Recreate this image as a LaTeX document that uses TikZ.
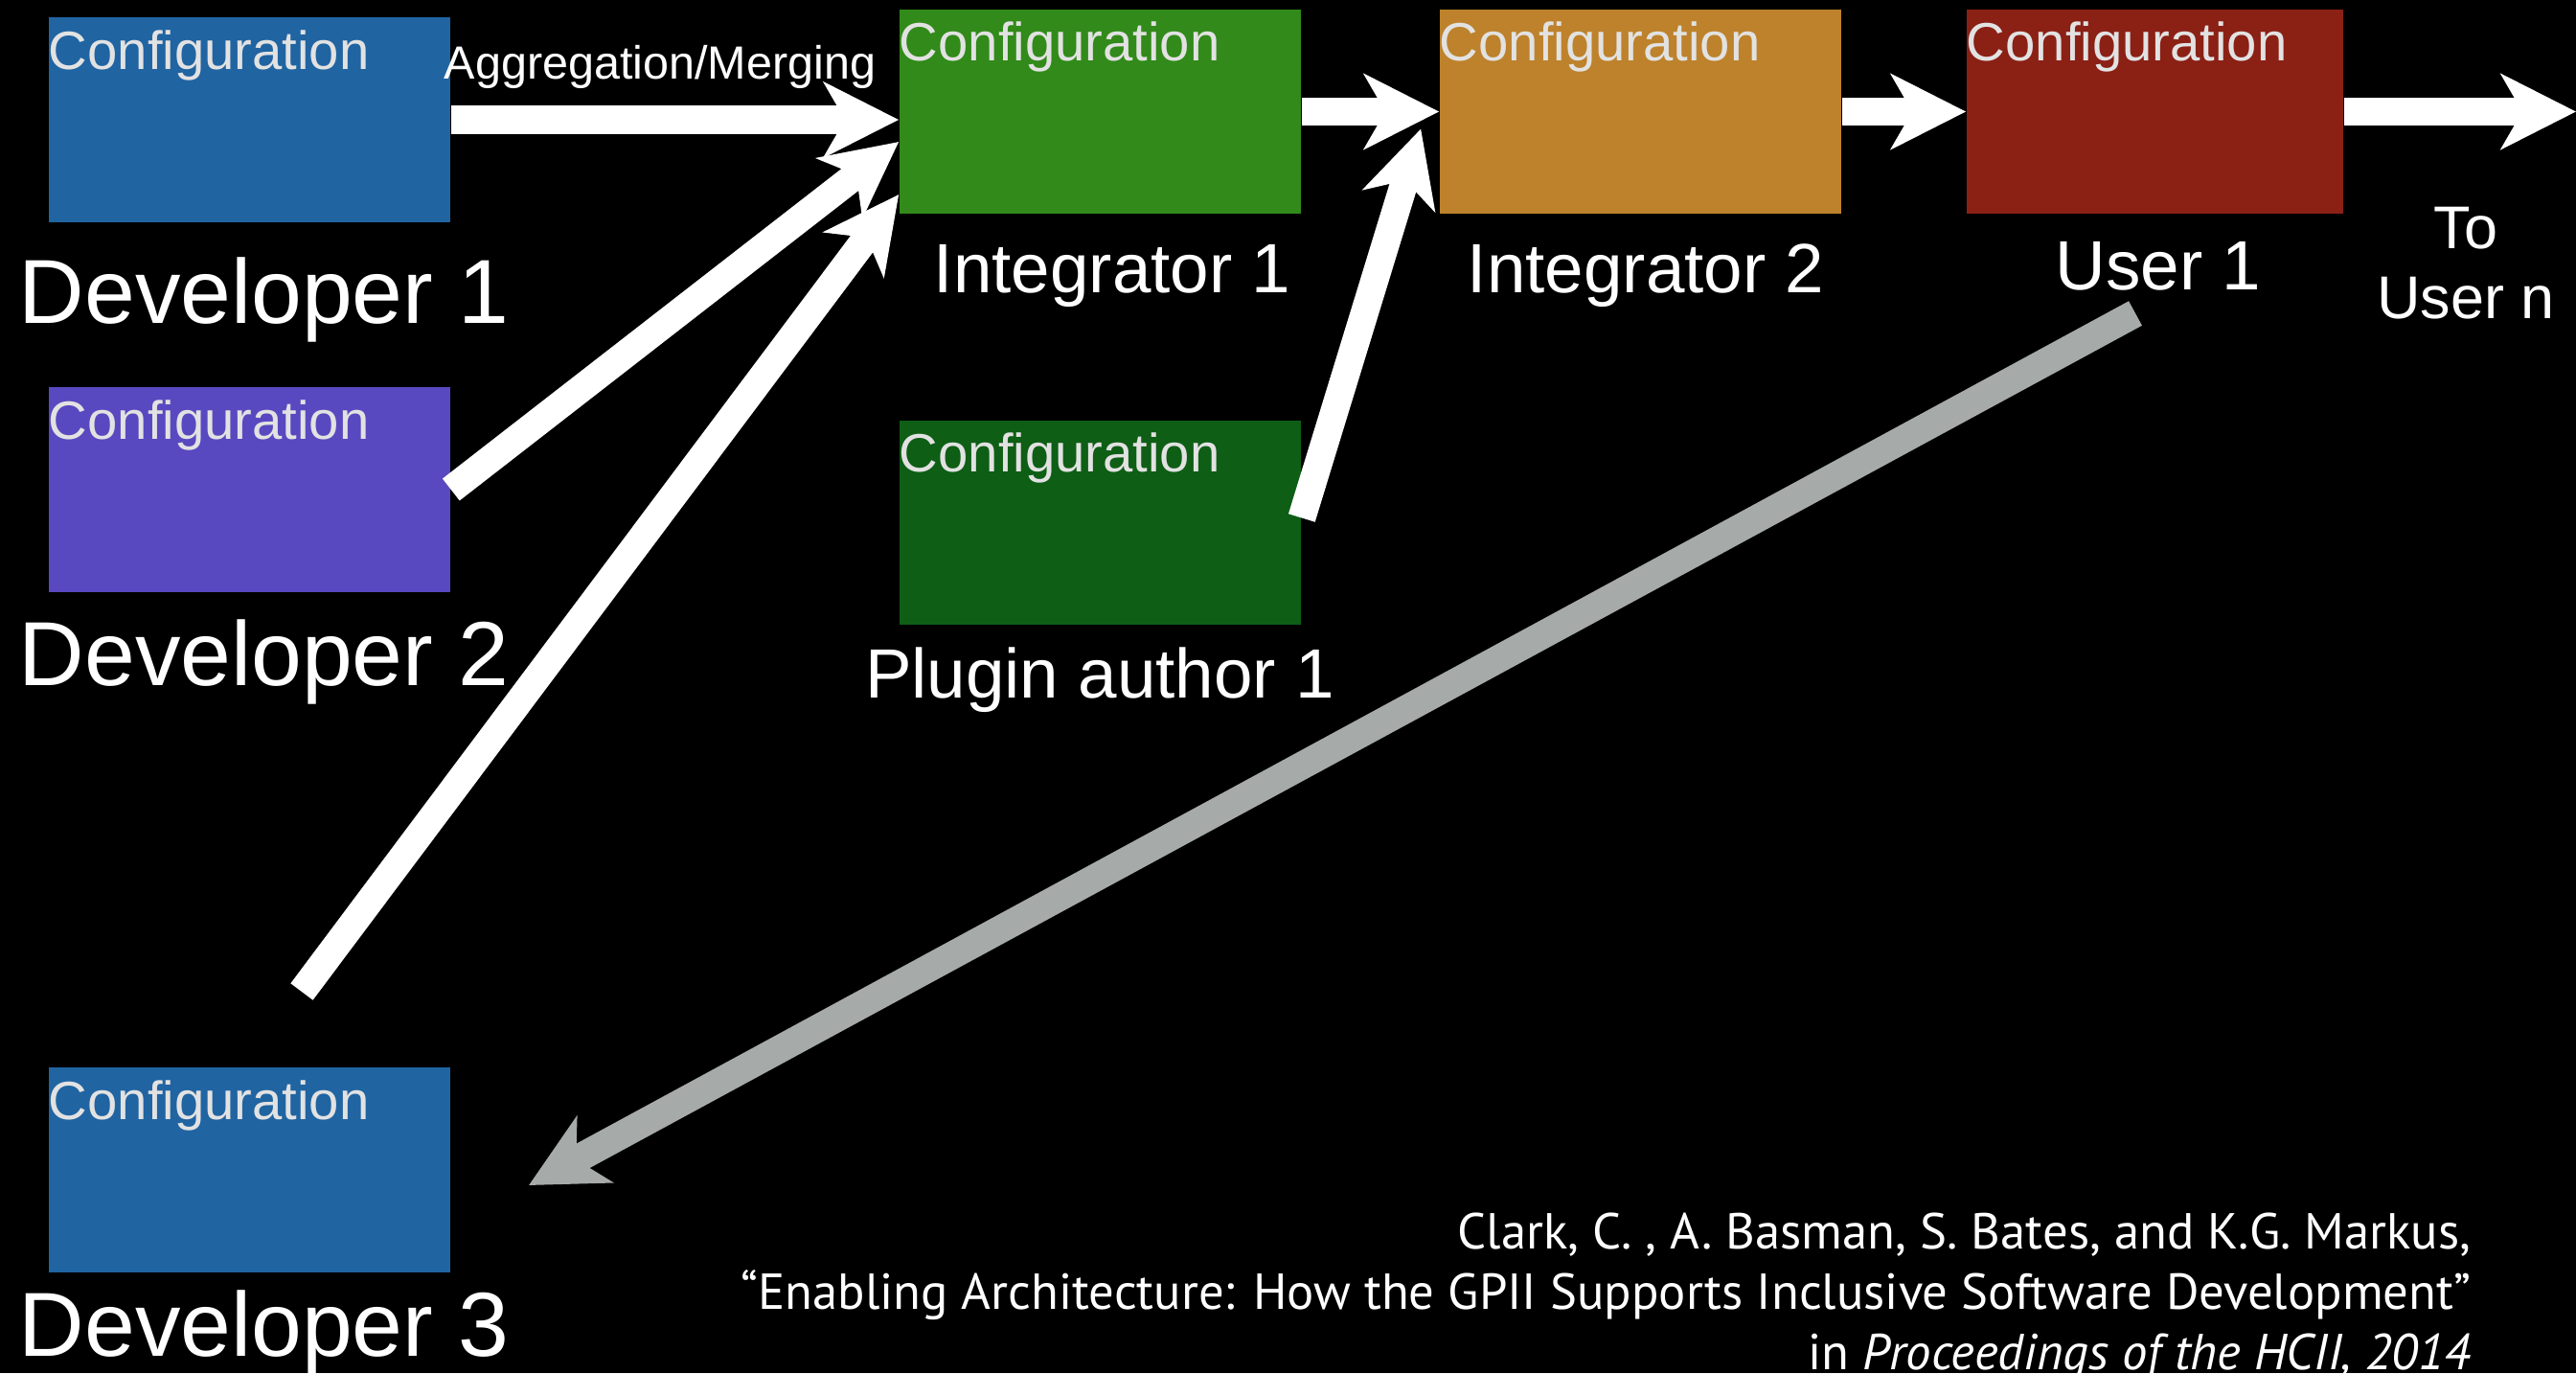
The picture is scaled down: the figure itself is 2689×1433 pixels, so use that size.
\documentclass[tikz,border=0pt]{standalone}
\usepackage{fontspec}
\setmainfont{Liberation Sans}
\newfontfamily\citefont{PT Sans}
\usetikzlibrary{positioning, arrows.meta}
\definecolor{devblue}{HTML}{2064A2}
\definecolor{devpurple}{HTML}{5849C0}
\definecolor{intgreen}{HTML}{318A19}
\definecolor{intorange}{HTML}{BD822B}
\definecolor{userred}{HTML}{8B2015}
\definecolor{plugingreen}{HTML}{0E5E15}
\definecolor{cfggray}{HTML}{E2E2E2}
\definecolor{backgray}{HTML}{A6AAA8}

\begin{document}
\begin{tikzpicture}[x=0.01cm, y=-0.01cm, inner sep=0pt,
      box/.style={rectangle, minimum width=4.19cm, minimum height=2.13cm},
      cfgtext/.style={anchor=north west, text=cfggray, font=\fontsize{16}{19}\selectfont},
      who/.style={anchor=base west, text=white, font=\fontsize{27}{32}\selectfont},
      role/.style={anchor=base, text=white, font=\fontsize{20.7}{25}\selectfont},
      flow/.style={-{Stealth[length=0.78cm, width=0.78cm, inset=0.22cm]}, draw=white, line width=0.29cm},
      back/.style={flow, draw=backgray}]
      \fill[black] (0,0) rectangle (2689,1433);
      \useasboundingbox (0,0) rectangle (2689,1433);
      % boxes
      \node[box, fill=devblue](dev1) at(260.5,125) {};
      \node[box, fill=devpurple](dev2) at(260.5,511) {};
      \node[box, fill=devblue](dev3) at(260.5,1221) {};
      \node[box, fill=intgreen](int1) at(1148.5,116.5) {};
      \node[box, fill=intorange](int2) at(1712.5,116.5) {};
      \node[box, fill=userred, minimum width=3.93cm](user1) at(2249.5,116.5) {};
      \node[box, fill=plugingreen](plugin) at(1148.5,545.5) {};
      \foreach \b in {dev1, dev2, dev3, int1, int2, user1, plugin}
        \node[cfgtext](cfg-\b) at ([yshift=-0.13cm]\b.north west) {Configuration};
      % arrows
      \coordinate (dev3out) at (315,1035);
      \coordinate (usern) at (2689,116.5);
      \coordinate (fbstart) at (2229,327);
      \coordinate (fbend) at (552,1237);
      \draw[flow] (dev1.east) -- (dev1.east -| int1.west);
      \draw[flow] (dev2.east) -- ([yshift=-0.315cm]int1.west);
      \draw[flow] (dev3out) -- ([yshift=-0.865cm]int1.west);
      \draw[flow] ([yshift=0.05cm]plugin.east) -- ([shift={(-0.19cm,-0.18cm)}]int2.west);
      \draw[flow] (int1) -- (int2);
      \draw[flow] (int2) -- (user1);
      \draw[flow] (user1) -- (usern);
      \draw[back] (fbstart) -- (fbend);
      % labels
      \node[anchor=base, text=white, font=\fontsize{13.8}{16}\selectfont](merge) at(689,82) {Aggregation/Merging};
      \node[who](dev1lbl) at(19,337) {Developer 1};
      \node[who](dev2lbl) at(19,715) {Developer 2};
      \node[who](dev3lbl) at(19,1415) {Developer 3};
      \node[role](int1lbl) at(1161,305) {Integrator 1};
      \node[role](int2lbl) at(1718,305) {Integrator 2};
      \node[role](user1lbl) at(2253,302) {User 1};
      \node[role](pluginlbl) at(1148,728) {Plugin author 1};
      \node[anchor=north, align=center, text=white, font=\fontsize{17.9}{20.8}\selectfont](tolbl) at(2574,215) {To\\User n};
      \node[anchor=north east, align=right, text=white, font=\citefont\fontsize{15}{17.9}\selectfont](cite) at(2580,1265)
        {Clark, C. , A. Basman, S. Bates, and K.G. Markus,\\
         “Enabling Architecture: How the GPII Supports Inclusive Software Development”\\
         in \textit{Proceedings of the HCII, 2014}};
  \end{tikzpicture}
\end{document}
